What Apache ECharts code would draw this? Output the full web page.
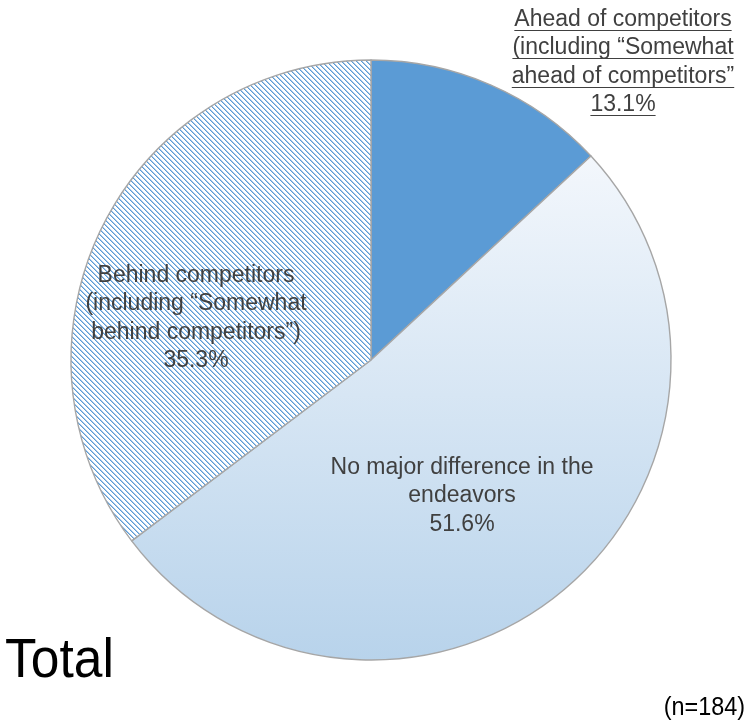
<!DOCTYPE html>
<html>
<head>
<meta charset="utf-8">
<script src="https://cdn.jsdelivr.net/npm/echarts@6/dist/echarts.min.js"></script>
<style>
  html, body { margin: 0; padding: 0; background: #fff; }
  #main { width: 750px; height: 728px; }
</style>
</head>
<body>
<div id="main"></div>
<script>
// data
var names = [
  'Ahead of competitors\n(including \u201cSomewhat\nahead of competitors\u201d',
  'No major difference in the\nendeavors',
  'Behind competitors\n(including \u201cSomewhat\nbehind competitors\u201d)'
];
var values = [13.1, 51.6, 35.3];
var sampleNote = '(n=184)';
var heading = 'Total';

// label anchor points (centre of each text block)
var labelPos = [[623, 62], [462, 496], [196, 318]];
var FONT = '"Liberation Sans", Arial, sans-serif';
var FS = 23, LH = 28.5;

// hatch tile for the "behind" slice
function hatch() {
  var c = document.createElement('canvas');
  c.width = 5; c.height = 5;
  var ctx = c.getContext('2d');
  ctx.fillStyle = '#ffffff';
  ctx.fillRect(0, 0, 5, 5);
  for (var i = 0; i < 5; i++) {
    ctx.fillStyle = '#5b9bd5';
    ctx.fillRect(i, i, 1, 1);
    ctx.fillStyle = '#a7c8e9';
    ctx.fillRect((i + 1) % 5, i, 1, 1);
  }
  return c;
}

var fills = [
  '#5b9bd5',
  new echarts.graphic.LinearGradient(0, 0, 0, 1, [
    { offset: 0, color: '#f3f7fc' },
    { offset: 1, color: '#b8d3eb' }
  ]),
  { image: hatch(), repeat: 'repeat' }
];

var chart = echarts.init(document.getElementById('main'));

// underline for the outside label
var measure = document.createElement('canvas').getContext('2d');
measure.font = FS + 'px ' + FONT;
var aheadLines = (names[0] + '\n' + values[0].toFixed(1) + '%').split('\n');
var underlines = [];
var top0 = labelPos[0][1] - aheadLines.length * LH / 2;
aheadLines.forEach(function (t, i) {
  var w = measure.measureText(t).width;
  var y = Math.round(top0 + LH * i + LH / 2 + FS * 0.36 + 2) + 0.5;
  underlines.push({
    type: 'line',
    silent: true,
    shape: { x1: labelPos[0][0] - w / 2, y1: y, x2: labelPos[0][0] + w / 2, y2: y },
    style: { stroke: '#404040', lineWidth: 1 }
  });
});

var option = {
  backgroundColor: '#ffffff',
  animation: false,
  graphic: underlines.concat([
    {
      type: 'text',
      x: 5, y: 662,
      scaleX: 0.92,
      style: { text: heading, font: '56px ' + FONT, fill: '#000', textVerticalAlign: 'middle' }
    },
    {
      type: 'text',
      x: 745, y: 708,
      scaleX: 0.9,
      style: { text: sampleNote, font: '26px ' + FONT, fill: '#000', textAlign: 'right', textVerticalAlign: 'middle' }
    }
  ]),
  series: [{
    type: 'pie',
    center: [371, 360],
    radius: [0, 300],
    startAngle: 90,
    clockwise: true,
    silent: true,
    itemStyle: { borderColor: '#a6a6a6', borderWidth: 1.4 },
    label: {
      show: true,
      position: 'inside',
      color: '#404040',
      fontFamily: FONT,
      fontSize: FS,
      lineHeight: LH,
      align: 'center',
      formatter: function (p) { return p.name + '\n' + p.value.toFixed(1) + '%'; }
    },
    labelLine: { show: false },
    labelLayout: function (p) {
      var pos = labelPos[p.dataIndex];
      return { x: pos[0], y: pos[1], align: 'center', verticalAlign: 'middle' };
    },
    data: names.map(function (n, i) {
      return { name: n, value: values[i], itemStyle: { color: fills[i] } };
    })
  }]
};

chart.setOption(option);
</script>
</body>
</html>
